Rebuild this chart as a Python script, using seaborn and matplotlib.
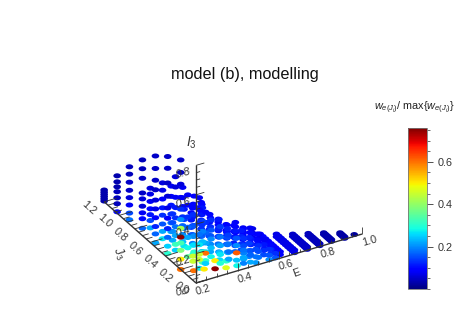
import numpy as np
import pandas as pd
import seaborn as sns
import matplotlib
matplotlib.use("Agg")
import matplotlib.pyplot as plt
from matplotlib.path import Path
from matplotlib.markers import MarkerStyle
from matplotlib.colors import Normalize
from matplotlib.cm import ScalarMappable
from matplotlib.ticker import MultipleLocator
from mpl_toolkits.mplot3d import proj3d

# ---- data: one entry per (E, J) column of points ----
column_E = [0.2]*7 + [0.26]*5 + [0.29]*4 + [0.32]*4 + [0.35]*4 + [0.38]*5 + [0.41]*4 \
    + [0.44]*5 + [0.47]*5 + [0.5]*5 + [0.53]*4 + [0.56]*5 + [0.59]*5 \
    + [0.2, 0.25, 0.303, 0.356, 0.409, 0.23, 0.29, 0.336, 0.39, 0.44]
column_J = [1.2, 1.03, 0.87, 0.7, 0.53, 0.37, 0.2,
            0.76, 0.6, 0.43, 0.27, 0.12,
            0.55, 0.4, 0.28, 0.16,
            0.65, 0.5, 0.35, 0.2,
            0.45, 0.33, 0.21, 0.09,
            0.55, 0.42, 0.3, 0.18, 0.06,
            0.5, 0.39, 0.27, 0.15,
            0.48, 0.36, 0.24, 0.12, 0.03,
            0.44, 0.33, 0.22, 0.11, 0.02,
            0.42, 0.32, 0.22, 0.12, 0.03,
            0.38, 0.28, 0.18, 0.08,
            0.36, 0.27, 0.18, 0.09, 0.02,
            0.32, 0.24, 0.16, 0.08, 0.02,
            0.03, 0.03, 0.03, 0.03, 0.03, 0.12, 0.12, 0.12, 0.12, 0.12]
column_Z = [
    [.005, .02, .035, .05, .065, .08],
    [.01, .065, .105, .147, .18, .214, .255],
    [.03, .075, .13, .18, .23, .285, .34, .39],
    [.05, .115, .155, .2, .25, .29, .39, .455, .515],
    [.03, .09, .14, .2, .26, .32, .39, .455, .535, .62],
    [.03, .08, .14, .2, .27, .34, .42, .51, .61, .69],
    [.0, .07, .13, .18, .22, .28, .34, .41, .49, .58, .66, .745],
    [.0, .05, .09, .13, .18, .23, .27],
    [.0, .05, .1, .16, .21, .27, .33, .38],
    [.0, .04, .1, .16, .22, .29, .36, .43, .5],
    [.03, .09, .16, .23, .3, .38, .45],
    [.02, .08, .115, .18, .25, .33, .42, .5],
    [.0, .06, .12, .18],
    [.03, .09, .15, .21, .28],
    [.03, .09, .15, .22, .3, .37],
    [.03, .1, .17, .24, .31, .4],
    [.0, .06, .12, .18, .24, .31],
    [.0, .05, .11, .17, .24, .3, .37],
    [.0, .05, .11, .18, .25, .31, .38],
    [.01, .07, .13, .2, .27, .34],
    [.0, .06, .12, .18, .24],
    [.0, .06, .12, .18, .25, .32],
    [.02, .08, .14, .2, .27],
    [.03, .09, .15, .21, .28],
    [.0, .05, .1, .15],
    [.0, .05, .1, .16, .22, .28],
    [.0, .05, .11, .17, .23],
    [.0, .05, .1, .16, .22],
    [.06, .11],
    [.0, .05, .1, .15, .2],
    [.0, .05, .1, .15, .2],
    [.0, .05, .1, .16, .22],
    [.0, .05, .11, .17],
    [.0, .04, .09],
    [.0, .05, .1, .15],
    [.0, .05, .1, .16],
    [.0, .1, .15],
    [.02, .06, .11],
    [.0, .04, .08, .12],
    [.0, .04, .08, .13],
    [.0, .04, .09, .14],
    [.0, .04, .09, .14],
    [.02, .07],
    [.0, .04, .08],
    [.0, .04, .08, .12],
    [.0, .04, .09, .13],
    [.0, .04, .09, .13],
    [.0, .04, .09],
    [.0, .03, .07, .1],
    [.0, .03, .07, .1],
    [.0, .04, .08, .12],
    [.0, .04, .08],
    [.0, .03, .06],
    [.0, .03, .07, .1],
    [.0, .03, .06, .1],
    [.0, .03, .07],
    [.0, .03, .07],
    [.0, .03, .06],
    [.0, .03, .06],
    [.0, .03, .06],
    [.0, .03, .06],
    [.0, .03],
    [.07], [.06], [.04], [.025], [.017],
    [.08, .115], [.04, .11], [.04], [.015], [.05],
]
column_W = [
    [.03, .03, .03, .03, .03, .03],
    [.10, .04, .04, .04, .03, .03, .03],
    [.18, .15, .08, .06, .05, .05, .04, .04],
    [.17, .10, .08, .06, .06, .05, .05, .04, .04],
    [.22, .17, .12, .09, .07, .06, .05, .05, .05, .05],
    [.30, .25, .17, .12, .09, .07, .06, .05, .05, .05],
    [.60, .50, .38, .33, .75, .42, .20, .13, .08, .06, .05, .05],
    [.22, .15, .11, .10, .08, .07, .06],
    [.27, .22, .16, .13, .11, .09, .07, .06],
    [.25, .32, .22, .18, .13, .11, .08, .06, .06],
    [.35, .28, .22, .17, .13, .10, .08],
    [.27, .45, .45, .27, .18, .13, .10, .08],
    [.22, .20, .15, .13],
    [.27, .22, .18, .14, .11],
    [.30, .26, .20, .16, .13, .10],
    [.33, .30, .24, .19, .14, .11],
    [.22, .18, .13, .11, .09, .08],
    [.24, .20, .17, .13, .10, .09, .08],
    [.30, .24, .20, .15, .12, .10, .09],
    [.30, .26, .22, .17, .13, .10],
    [.19, .16, .13, .11, .10],
    [.22, .20, .16, .13, .11, .10],
    [.28, .24, .20, .16, .13],
    [.30, .27, .22, .18, .14],
    [.17, .13, .11, .10],
    [.20, .17, .13, .11, .10, .09],
    [.22, .20, .16, .13, .10],
    [.26, .24, .20, .15, .12],
    [.22, .18],
    [.15, .13, .11, .10, .09],
    [.17, .15, .12, .11, .10],
    [.20, .18, .15, .12, .11],
    [.26, .22, .18, .14],
    [.13, .11, .10],
    [.17, .14, .12, .10],
    [.22, .18, .15, .12],
    [.24, .20, .16],
    [.19, .22, .18],
    [.12, .11, .10, .09],
    [.14, .13, .11, .10],
    [.17, .15, .13, .11],
    [.22, .19, .15, .13],
    [.22, .17],
    [.10, .09, .09],
    [.12, .11, .10, .09],
    [.15, .13, .12, .11],
    [.19, .16, .14, .12],
    [.21, .18, .15],
    [.09, .09, .09, .08],
    [.11, .10, .10, .09],
    [.14, .12, .11, .10],
    [.18, .15, .13],
    [.08, .08, .08],
    [.09, .09, .09, .08],
    [.12, .11, .10, .09],
    [.15, .13, .11],
    [.20, .16, .13],
    [.08, .07, .07],
    [.09, .08, .07],
    [.11, .10, .08],
    [.13, .12, .10],
    [.16, .13],
    [.60], [.50], [.75], [.47], [.28],
    [.45, .45], [.25, .60], [.50], [.30], [.62],
]
# dense streaks at high E, close to the floor
streak_E = [0.62, 0.68, 0.74, 0.80, 0.86, 0.92, 0.97]
streak_J = [
    [.3, .265, .23, .195, .16, .13, .1, .07, .04],
    [.25, .22, .19, .16, .13, .1, .07, .04, .015],
    [.2, .175, .15, .125, .1, .075, .05, .03, .01],
    [.16, .135, .11, .09, .07, .05, .03, .01],
    [.12, .1, .08, .06, .04, .02],
    [.07, .05, .03, .01],
    [.02],
]
streak_Z = [[.0, .02], [.0, .018], [.0, .016], [.0, .014], [.0, .012], [.0, .01], [.0]]
streak_W = [0.09, 0.07, 0.05, 0.04, 0.03, 0.025, 0.02]
e_ticks = [0.2, 0.4, 0.6, 0.8, 1.0]
j_ticks = [0.0, 0.2, 0.4, 0.6, 0.8, 1.0, 1.2]
z_ticks = [0.0, 0.2, 0.4, 0.6, 0.8]
cbar_ticks = [0.2, 0.4, 0.6]
title = "model (b), modelling"

rows = [(e, j, z, w) for e, j, zs, ws in zip(column_E, column_J, column_Z, column_W)
        for z, w in zip(zs, ws)]
rows += [(e, j, z, w) for e, js, zs, w in zip(streak_E, streak_J, streak_Z, streak_W)
         for j in js for z in zs]
df = pd.DataFrame(rows, columns=["E", "J", "I3", "w"])

# ---- style ----
sns.set_theme(style="white")
plt.rcParams["font.family"] = ["Liberation Sans", "DejaVu Sans"]
plt.rcParams["mathtext.fontset"] = "custom"
plt.rcParams["mathtext.rm"] = "Liberation Sans"
plt.rcParams["mathtext.it"] = "Liberation Sans:italic"
plt.rcParams["mathtext.bf"] = "Liberation Sans:bold"
INK = "#333333"
cmap = matplotlib.colormaps["jet"]
norm = Normalize(0.0, 0.76)

W, H = 463, 320
fig = plt.figure(figsize=(W/100, H/100), dpi=100, facecolor="white")
ax = fig.add_axes([0.1, 0.0, H/W, 1.0], projection="3d", proj_type="ortho",
                  computed_zorder=False)
ax.view_init(elev=30.7, azim=-120)
aspect = (192, 184, 137)
ax.set_box_aspect(aspect)

ellipse = Path(Path.unit_circle().vertices * [1, 0.66], Path.unit_circle().codes)
ax.scatter(df["E"], df["J"], df["I3"], c=df["w"], cmap=cmap, norm=norm, s=30,
           marker=MarkerStyle(ellipse), linewidths=0, depthshade=False, zorder=2)
ax.set_xlim(0.2, 1.0, view_margin=0)
ax.set_ylim(0.0, 1.2, view_margin=0)
ax.set_zlim(0.0, 0.8, view_margin=0)
ax.set_axis_off()
ax.patch.set_alpha(0)

# hand-built axes that meet at the front corner
def line(a, b, lw=0.8):
    ax.plot([a[0], b[0]], [a[1], b[1]], [a[2], b[2]], color=INK, lw=lw, zorder=3,
            solid_capstyle="butt")

line((0.2, 0, 0), (1.0, 0, 0), 1.0)
line((0.2, 0, 0), (0.2, 1.2, 0), 1.0)
line((0.2, 0, 0), (0.2, 0, 0.8), 1.0)
for t in np.arange(0.2, 1.0001, 0.05):
    major = abs(t*5 - round(t*5)) < 1e-6
    line((t, 0, 0), (t, 0, 0.05 if major else 0.025), 0.6)
for t in np.arange(0.0, 1.2001, 0.05):
    major = abs(t*5 - round(t*5)) < 1e-6
    line((0.2, t, 0), (0.26 if major else 0.23, t, 0), 0.6)
for t in np.arange(0.0, 0.8001, 0.05):
    major = abs(t*5 - round(t*5)) < 1e-6
    line((0.2, 0, t), (0.24 if major else 0.22, 0, t), 0.6)

# fit the projected box to the reference's pixel frame
def to_px(e, j, z):
    x, y, _ = proj3d.proj_transform(e, j, z, ax.get_proj())
    return ax.transData.transform((x, y))

fig.canvas.draw()
a, b = to_px(0.2, 0, 0), to_px(1.0, 0, 0)
ax.set_box_aspect(aspect, zoom=166 / abs(b[0] - a[0]))
fig.canvas.draw()
a = to_px(0.2, 0, 0)
pos = ax.get_position()
ax.set_position([pos.x0 + (196 - a[0]) / W, pos.y0 + ((H - 283) - a[1]) / H,
                 pos.width, pos.height])
fig.canvas.draw()

# labels sit at a pixel offset from their projected axis position
def label(e, j, z, dx, dy, text, **kw):
    p = to_px(e, j, z)
    kw.setdefault("fontsize", fs)
    fig.text((p[0] + dx) / W, (p[1] - dy) / H, text, color=INK, ha="center", va="center", **kw)

fs = 7.8
for t in e_ticks:
    label(t, 0, 0, 7.5, 7, f"{t:.1f}", rotation=16)
for t in j_ticks:
    label(0.2, t, 0, -15, 6, f"{t:.1f}", rotation=-42)
for t in z_ticks:
    label(0.2, 0, t, -13, 8, f"{t:.1f}", style="italic", rotation=15)
label(0.67, 0, 0, 3, 19, "E", rotation=20)
label(0.2, 1.017, 0, 0, 39, r"$J_3$", fontsize=fs + 1, rotation=-60)
label(0.2, 0, 0.8, -5, -23, r"$I_3$", fontsize=fs + 2)

# colour bar
cax = fig.add_axes([408/W, 1 - 289/H, 19/W, 161/H])
cb = fig.colorbar(ScalarMappable(norm=norm, cmap=cmap), cax=cax)
cb.set_ticks(cbar_ticks, labels=[f"{t:.1f}" for t in cbar_ticks])
cb.ax.yaxis.set_minor_locator(MultipleLocator(0.05))
cb.ax.tick_params(which="major", length=4, width=0.6, color=INK, labelsize=fs,
                  labelcolor=INK, pad=4, right=True)
cb.ax.tick_params(which="minor", length=2, width=0.5, color=INK, right=True)
cb.outline.set_edgecolor("#777777")
cb.outline.set_linewidth(0.6)

fig.text(414.5/W, 1 - 108/H, r"$w_{e(J_i)}$/ max{$w_{e(J_i)}$}", fontsize=7.8,
         color="#222222", ha="center", va="center")
fig.text(245/W, 1 - 74/H, title, fontsize=11.7, color="#111111", ha="center", va="center")

fig.savefig("out.png", dpi=100, facecolor="white")
